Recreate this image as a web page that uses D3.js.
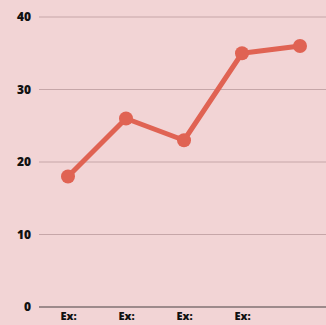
<!DOCTYPE html>
<html>
<head>
<meta charset="utf-8">
<script src="https://cdn.jsdelivr.net/npm/d3@7"></script>
<style>
  html, body { margin: 0; padding: 0; background: #f2d4d5; }
  svg { display: block; }
</style>
</head>
<body>
<svg id="chart" width="326" height="325"></svg>
<script>
// Line series with one label per point
const categories = ["Ex:", "Ex:", "Ex:", "Ex:", ""];
const values = [18, 26, 23, 35, 36];
const yTicks = [0, 10, 20, 30, 40];

const W = 326, H = 325;
const svg = d3.select("#chart");
svg.append("rect").attr("width", W).attr("height", H).attr("fill", "#f2d4d5");

const x = d3.scalePoint()
  .domain(d3.range(categories.length))
  .range([68, 300]);
const y = d3.scaleLinear().domain([0, 40]).range([307, 17]);

const font = "'Open Sans', 'DejaVu Sans', sans-serif";

// horizontal gridlines
const grid = svg.append("g");
grid.selectAll("line").data(yTicks.filter(d => d !== 0)).join("line")
  .attr("x1", 39).attr("x2", W)
  .attr("y1", d => y(d)).attr("y2", d => y(d))
  .attr("stroke", "#c6a6a8").attr("stroke-width", 1);

// baseline
svg.append("line")
  .attr("x1", 39).attr("x2", W)
  .attr("y1", y(0)).attr("y2", y(0))
  .attr("stroke", "#9d8a8b").attr("stroke-width", 2);

// y tick labels
const yAxis = d3.axisLeft(y).tickValues(yTicks).tickSize(0).tickPadding(0);
const gy = svg.append("g").attr("transform", "translate(31,0)").call(yAxis);
gy.select(".domain").remove();
gy.selectAll("text")
  .attr("font-family", font)
  .attr("font-weight", 800).attr("font-size", 12).attr("fill", "#111");

// x labels
const xAxis = d3.axisBottom(x).tickFormat(i => categories[i]).tickSize(0).tickPadding(0);
const gx = svg.append("g").attr("transform", "translate(0,312)").call(xAxis);
gx.select(".domain").remove();
gx.selectAll("text")
  .attr("font-family", font)
  .attr("font-weight", 800).attr("font-size", 11).attr("fill", "#111");

// line and markers
const line = d3.line().x((d, i) => x(i)).y(d => y(d));
svg.append("path").datum(values)
  .attr("d", line).attr("fill", "none")
  .attr("stroke", "#e06353").attr("stroke-width", 5)
  .attr("stroke-linejoin", "round");
svg.append("g").selectAll("circle").data(values).join("circle")
  .attr("cx", (d, i) => x(i)).attr("cy", d => y(d)).attr("r", 7)
  .attr("fill", "#e06353");
</script>
</body>
</html>
